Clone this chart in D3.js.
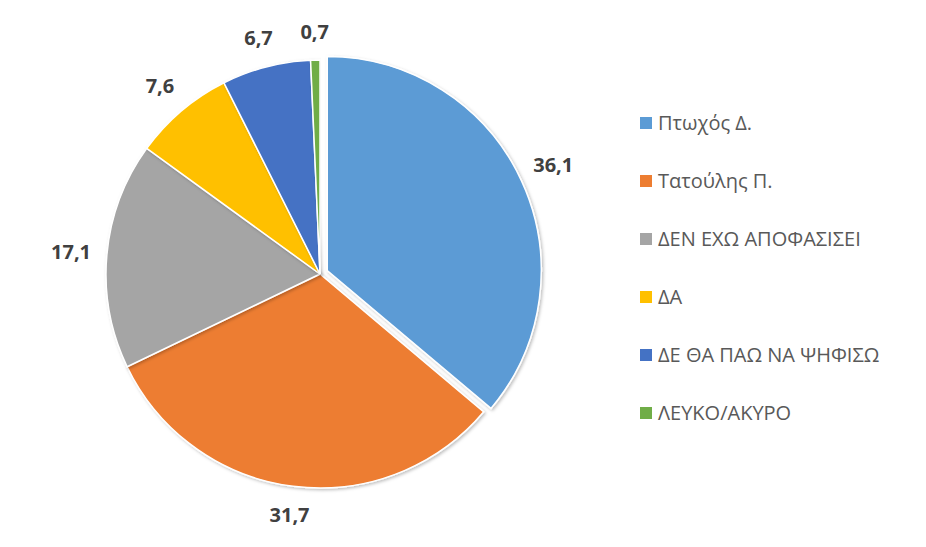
<!DOCTYPE html>
<html>
<head>
<meta charset="utf-8">
<script src="https://cdn.jsdelivr.net/npm/d3@7"></script>
<style>
  body { margin: 0; background: #fff; }
  text { font-family: "Open Sans", "Noto Sans", sans-serif; }
</style>
</head>
<body>
<div id="chart"></div>
<script>
// poll results (%)
const names = ["Πτωχός Δ.", "Τατούλης Π.", "ΔΕΝ ΕΧΩ ΑΠΟΦΑΣΙΣΕΙ", "ΔΑ", "ΔΕ ΘΑ ΠΑΩ ΝΑ ΨΗΦΙΣΩ", "ΛΕΥΚΟ/ΑΚΥΡΟ"];
const values = [36.1, 31.7, 17.1, 7.6, 6.7, 0.7];
const labels = ["36,1", "31,7", "17,1", "7,6", "6,7", "0,7"];
const colors = ["#5B9BD5", "#ED7D31", "#A5A5A5", "#FFC000", "#4472C4", "#70AD47"];

const width = 926, height = 547;
const cx = 320, cy = 274, radius = 214;

const svg = d3.select("#chart")
  .append("svg")
    .attr("width", width)
    .attr("height", height);

// soft shadow like the office chart
const filter = svg.append("defs").append("filter")
  .attr("id", "shadow")
  .attr("x", "-10%").attr("y", "-10%")
  .attr("width", "120%").attr("height", "120%");
filter.append("feDropShadow")
  .attr("dx", 1.5).attr("dy", 1.5)
  .attr("stdDeviation", 1.5)
  .attr("flood-color", "#000")
  .attr("flood-opacity", 0.25);

const color = d3.scaleOrdinal().domain(names).range(colors);

const pie = d3.pie().sort(null).value((d, i) => values[i]);
const arcs = pie(names);

const arc = d3.arc().innerRadius(0).outerRadius(radius);

// only the first slice is pulled out
const explode = i => i === 0 ? 8 : 0;
const mid = d => (d.startAngle + d.endAngle) / 2;

const g = svg.append("g").attr("transform", `translate(${cx}, ${cy})`);

g.selectAll("path")
  .data(arcs)
  .join("path")
    .attr("d", arc)
    .attr("fill", d => color(d.data))
    .attr("stroke", "#fff")
    .attr("stroke-width", 1.5)
    .attr("filter", "url(#shadow)")
    .attr("transform", (d, i) => {
      const a = mid(d), e = explode(i);
      return `translate(${e * Math.sin(a)}, ${-e * Math.cos(a)})`;
    });

// value labels outside the pie
const labelPos = (d, i) => {
  const a = mid(d);
  const r = 242 + 8 * Math.abs(Math.sin(a)) + explode(i);
  return [r * Math.sin(a), -r * Math.cos(a)];
};

g.selectAll("text.val")
  .data(arcs)
  .join("text")
    .attr("class", "val")
    .attr("x", (d, i) => labelPos(d, i)[0])
    .attr("y", (d, i) => labelPos(d, i)[1])
    .attr("dy", "0.35em")
    .attr("text-anchor", "middle")
    .style("font-size", "20px")
    .style("font-weight", "bold")
    .style("fill", "#404040")
    .text((d, i) => labels[i]);

// legend
const ly = d3.scalePoint().domain(names).range([123, 413]);

const legend = svg.append("g")
  .selectAll("g")
  .data(names)
  .join("g")
    .attr("transform", d => `translate(640, ${ly(d)})`);

legend.append("rect")
  .attr("x", 0)
  .attr("y", -6)
  .attr("width", 12)
  .attr("height", 12)
  .attr("fill", d => color(d));

legend.append("text")
  .attr("x", 18)
  .attr("dy", "0.35em")
  .style("font-size", "20px")
  .style("fill", "#595959")
  .text(d => d);
</script>
</body>
</html>
